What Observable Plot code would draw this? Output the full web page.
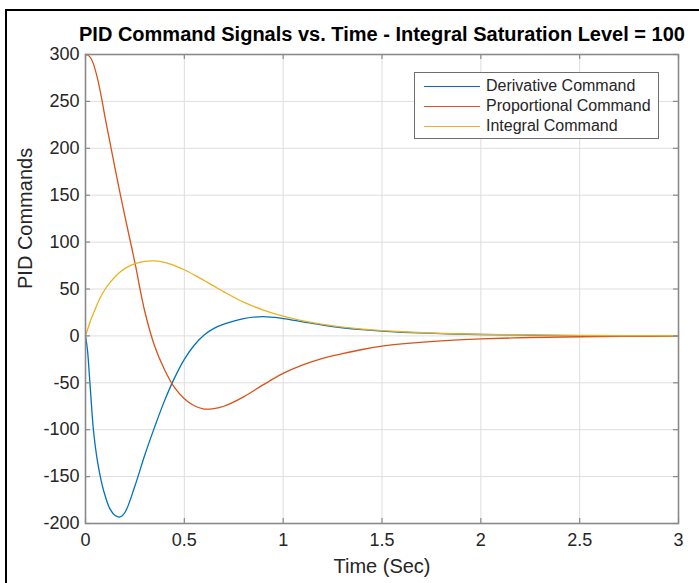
<!DOCTYPE html>
<html>
<head>
<meta charset="utf-8">
<script src="https://cdn.jsdelivr.net/npm/d3@7"></script>
<script src="https://cdn.jsdelivr.net/npm/@observablehq/plot@0.6"></script>
<style>
  html, body { margin: 0; padding: 0; background: #fff; }
  #wrap { position: relative; width: 699px; height: 583px; overflow: hidden; font-family: "Liberation Sans", Arial, sans-serif; }
  #outer { position: absolute; left: 5px; top: 9px; width: 720px; height: 600px; border-left: 2px solid #000; border-top: 2px solid #000; }
  #chart { position: absolute; left: 0; top: 0; }
  #legend { position: absolute; left: 414px; top: 72px; width: 245px; height: 67px; box-sizing: border-box;
            border: 1px solid #6e6e6e; background: #fff; padding-top: 3px; }
  .row { display: flex; align-items: center; height: 20px; font-size: 16px; color: #262626; }
  .sw { width: 56px; height: 0; border-top: 1.3px solid; margin-left: 9px; margin-right: 6px; }
</style>
</head>
<body>
<div id="wrap">
  <div id="outer"></div>
  <div id="chart"></div>
  <div id="legend"></div>
</div>
<script>
const titleText = "PID Command Signals vs. Time - Integral Saturation Level = 100";
const xLabel = "Time (Sec)";
const yLabel = "PID Commands";
const seriesNames = ["Derivative Command", "Proportional Command", "Integral Command"];
const seriesColors = ["#0072BD", "#D95319", "#EDB120"];
const xTicks = [0, 0.5, 1, 1.5, 2, 2.5, 3];
const yTicks = [-200, -150, -100, -50, 0, 50, 100, 150, 200, 250, 300];

const time = [0, 0.01, 0.02, 0.03, 0.04, 0.06, 0.08, 0.1, 0.125, 0.15, 0.175, 0.2, 0.25, 0.3, 0.35, 0.4, 0.45, 0.5, 0.55, 0.6, 0.65, 0.7, 0.8, 0.9, 1.0, 1.1, 1.2, 1.3, 1.4, 1.5, 1.6, 1.8, 2.0, 2.25, 2.5, 2.75, 3.0];
const derivative = [0, -15, -43, -73, -100, -133, -155, -171, -185, -191.5, -193, -188, -160, -127, -97, -69, -45, -25, -10, 1, 8, 12.5, 18.5, 20.5, 18.5, 15, 11.5, 8.7, 6.6, 5, 3.9, 2.4, 1.5, 0.8, 0.4, 0.2, 0.1];
const proportional = [300, 299.5, 298, 295, 290, 275, 255, 232, 205, 178, 152, 127, 78, 26, -11, -36, -55, -67, -74.5, -78, -77.5, -75, -65, -52, -40, -31, -24, -19, -14.5, -11, -8.5, -5.2, -3.2, -1.7, -0.9, -0.5, -0.2];
const integral = [0, 6.5, 13, 19, 24, 34, 43, 50, 57, 63, 68, 72, 77, 79.5, 80, 78.5, 75, 70.5, 65, 59, 53, 47, 36, 27.5, 21, 16, 12.2, 9.4, 7.2, 5.6, 4.4, 2.7, 1.7, 1, 0.5, 0.3, 0.15];

const seriesValues = [derivative, proportional, integral];
const rows = seriesNames.flatMap((name, i) => time.map((t, j) => ({t, v: seriesValues[i][j], s: name})));

const W = 699, H = 583, ML = 85, MR = 21, MT = 54, MB = 60;
const plotW = W - ML - MR, plotH = H - MT - MB;
const tickLen = 5;
const axisGray = "#8a8a8a";

const chart = Plot.plot({
  width: W, height: H,
  marginLeft: ML, marginRight: MR, marginTop: MT, marginBottom: MB,
  style: {fontFamily: "'Liberation Sans', Arial, sans-serif", fontSize: "18px", color: "#262626", background: "transparent", overflow: "visible"},
  x: {domain: [0, 3], label: null},
  y: {domain: [-200, 300], label: null},
  color: {domain: seriesNames, range: seriesColors},
  marks: [
    Plot.gridX(xTicks, {stroke: "#dedede", strokeOpacity: 1, strokeWidth: 1}),
    Plot.gridY(yTicks, {stroke: "#dedede", strokeOpacity: 1, strokeWidth: 1}),
    Plot.line(rows, {x: "t", y: "v", z: "s", stroke: "s", strokeWidth: 1.3, curve: "catmull-rom"}),
    Plot.frame({stroke: axisGray, strokeWidth: 1.6}),
    Plot.tickY(yTicks, {y: d => d, insetRight: plotW - tickLen, stroke: axisGray, strokeWidth: 1.2}),
    Plot.tickY(yTicks, {y: d => d, insetLeft: plotW - tickLen, stroke: axisGray, strokeWidth: 1.2}),
    Plot.tickX(xTicks, {x: d => d, insetTop: plotH - tickLen, stroke: axisGray, strokeWidth: 1.2}),
    Plot.tickX(xTicks, {x: d => d, insetBottom: plotH - tickLen, stroke: axisGray, strokeWidth: 1.2}),
    Plot.axisX(xTicks, {tickSize: 0, tickPadding: 10, fontSize: 18, tickFormat: d => String(d), label: null}),
    Plot.axisY(yTicks, {tickSize: 0, tickPadding: 6, fontSize: 18, tickFormat: d => String(d), label: null}),
    Plot.text([xLabel], {text: d => d, frameAnchor: "bottom", dy: 43, lineAnchor: "middle", fontSize: 20, fill: "#262626"}),
    Plot.text([yLabel], {text: d => d, frameAnchor: "left", dx: -60, rotate: -90, lineAnchor: "middle", fontSize: 20, fill: "#262626"}),
    Plot.text([titleText], {text: d => d, frameAnchor: "top", dy: -20, lineAnchor: "middle", fontSize: 20, fontWeight: "bold", fill: "#000"})
  ]
});
document.getElementById("chart").appendChild(chart);

const legend = document.getElementById("legend");
seriesNames.forEach((name, i) => {
  const row = document.createElement("div");
  row.className = "row";
  const sw = document.createElement("span");
  sw.className = "sw";
  sw.style.borderTopColor = seriesColors[i];
  const lab = document.createElement("span");
  lab.textContent = name;
  row.appendChild(sw);
  row.appendChild(lab);
  legend.appendChild(row);
});
</script>
</body>
</html>
